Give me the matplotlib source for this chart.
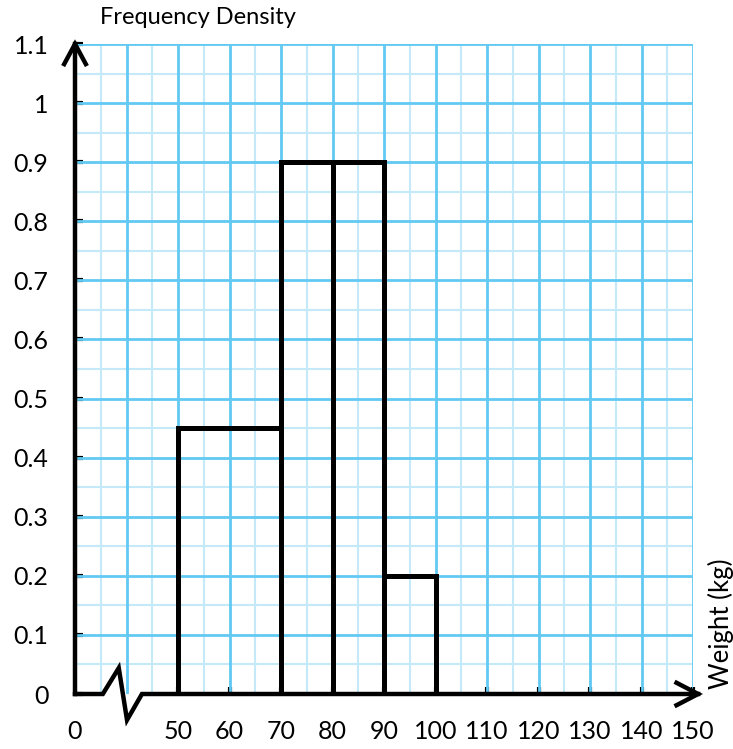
import numpy as np
import matplotlib
matplotlib.use('Agg')
import matplotlib.pyplot as plt

plt.rcParams['font.family'] = ['Lato', 'DejaVu Sans']

# histogram data
bin_edges_left = [50, 70, 80, 90]
bin_widths = [20, 10, 10, 10]
freq_density = [0.45, 0.9, 0.9, 0.2]

x_tick_values = [0, 50, 60, 70, 80, 90, 100, 110, 120, 130, 140, 150]
y_tick_values = [0, 0.1, 0.2, 0.3, 0.4, 0.5, 0.6, 0.7, 0.8, 0.9, 1, 1.1]
y_tick_labels = ['0', '0.1', '0.2', '0.3', '0.4', '0.5', '0.6', '0.7', '0.8', '0.9', '1', '1.1']

# axis is broken between 0 and 50: 50 sits two grid squares from the origin
def xmap(v):
    v = np.asarray(v, dtype=float)
    return np.where(v >= 50, v - 30, v)

major_c = '#62c9f2'
minor_c = '#c4e9f8'
lw_black = 3.6

fig = plt.figure(figsize=(7.33, 7.49), dpi=100)
ax = fig.add_axes([75 / 733, 1 - 694 / 749, 618 / 733, 650 / 749])

xmax, ymax = 120, 1.1
ax.set_xlim(0, xmax)
ax.set_ylim(0, ymax)

# graph paper grid
for d in np.arange(5, xmax, 10):
    ax.plot([d, d], [0, ymax], color=minor_c, lw=1.5, zorder=1)
for yv in np.arange(0.05, ymax, 0.1):
    ax.plot([0, xmax], [yv, yv], color=minor_c, lw=1.5, zorder=1)
for d in np.arange(10, xmax + 1, 10):
    ax.plot([d, d], [0, ymax], color=major_c, lw=2.0, zorder=2)
for yv in np.arange(0.1, ymax + 0.01, 0.1):
    ax.plot([0, xmax], [yv, yv], color=major_c, lw=2.0, zorder=2)

# bars
ax.bar(xmap(bin_edges_left), freq_density, width=bin_widths, align='edge',
       fill=False, edgecolor='black', linewidth=lw_black, zorder=4)

# axes lines
for s in ax.spines.values():
    s.set_visible(False)
ax.plot([0, 0], [0, ymax], color='black', lw=3.2, zorder=5, clip_on=False,
        solid_capstyle='projecting')
ax.plot([-2.1, 0, 2.1], [ymax - 0.034, ymax, ymax - 0.034], color='black', lw=3.2,
        zorder=5, clip_on=False, solid_joinstyle='miter')
brk_x = [0, 5.4, 8.5, 10.1, 13.0, xmax + 1]
brk_y = [0, 0, 0.044, -0.044, 0, 0]
ax.plot(brk_x, brk_y, color='black', lw=3.2, zorder=5, clip_on=False,
        solid_joinstyle='miter')
ax.plot([xmax - 3.2, xmax + 1, xmax - 3.2], [0.019, 0, -0.019], color='black', lw=3.2,
        zorder=5, clip_on=False, solid_joinstyle='miter')

# ticks and labels
ax.set_xticks(xmap(x_tick_values))
ax.set_xticklabels([str(v) for v in x_tick_values])
ax.set_yticks(y_tick_values)
ax.set_yticklabels(y_tick_labels)
ax.tick_params(axis='x', direction='in', length=5, width=3, pad=19, labelsize=18)
ax.tick_params(axis='y', direction='in', length=6, width=3, pad=19, labelsize=18)
for t in ax.get_xticklines()[:2]:
    t.set_visible(False)

fig.text(100 / 733, 1 - 18 / 749, 'Frequency Density', fontsize=17,
         ha='left', va='center')
fig.text(721 / 733, 1 - 624 / 749, 'Weight (kg)', fontsize=18.5, rotation=90,
         ha='center', va='center')

fig.savefig('out.png', dpi=100)
